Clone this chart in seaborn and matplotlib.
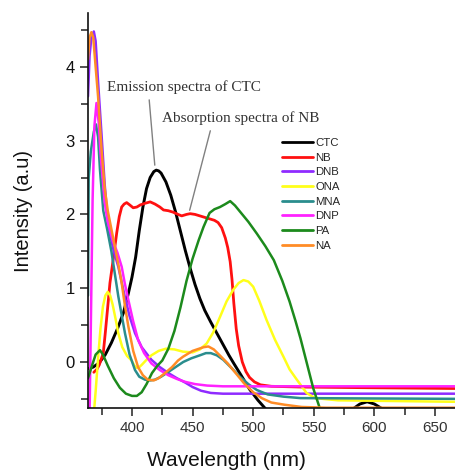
import numpy as np
import pandas as pd
import matplotlib
matplotlib.use("Agg")
import matplotlib.pyplot as plt
import seaborn as sns
from matplotlib.ticker import MultipleLocator

# ---------------- data ----------------
series_names = ["CTC", "NB", "DNB", "ONA", "MNA", "DNP", "PA", "NA"]
series_colors = ["#000000", "#ff1010", "#8f2bff", "#ffff1a", "#2a8d8d", "#ff22ff", "#1c8a1c", "#ff8c26"]

ctc_wl = [363.7, 368, 373, 378, 383, 388, 393, 397, 400, 403, 406, 409, 412, 415, 418, 420, 422, 424, 428, 432,
          436, 440, 444, 448, 452, 456, 460, 465, 470, 475, 480, 484, 490, 497, 504, 511, 520, 540, 560,
          575, 582, 588, 594, 600, 606, 612, 630, 667]
ctc_int = [-0.09, -0.07, -0.01, 0.10, 0.26, 0.45, 0.67, 0.93, 1.15, 1.42, 1.78, 2.10, 2.35, 2.50, 2.58, 2.60, 2.59,
           2.56, 2.44, 2.26, 2.03, 1.77, 1.51, 1.27, 1.05, 0.86, 0.70, 0.54, 0.39, 0.24, 0.09, -0.02, -0.18,
           -0.37, -0.52, -0.65, -0.80, -0.90, -0.85, -0.72, -0.64, -0.57, -0.54, -0.57, -0.63, -0.70, -0.85, -0.90]

nb_wl = [368.5, 371, 373, 376.3, 378, 380, 381.8, 385, 387.4, 389.5, 391.5, 393.5, 395.6, 398, 401, 404, 407,
         410.7, 415, 419, 423, 426, 430, 434, 438, 441, 445, 448, 452, 456, 460, 464, 468, 471, 474, 477, 479,
         481, 482.5, 484, 486, 488, 491, 494, 497, 501, 506, 515, 540, 600, 667]
nb_int = [-0.14, -0.10, -0.04, 0.12, 0.40, 0.75, 1.07, 1.45, 1.75, 1.97, 2.10, 2.14, 2.16, 2.13, 2.09, 2.10, 2.13,
          2.15, 2.17, 2.14, 2.10, 2.06, 2.05, 2.03, 2.00, 1.98, 2.00, 2.01, 2.00, 1.98, 1.96, 1.94, 1.92, 1.89, 1.82,
          1.68, 1.55, 1.36, 1.12, 0.80, 0.45, 0.22, 0.00, -0.13, -0.21, -0.27, -0.31, -0.33, -0.34, -0.35, -0.36]

dnb_wl = [363.7, 365, 366.5, 368.5, 370, 372, 375, 377.5, 380, 382, 385, 388.7, 391.5, 394, 398, 402.5, 408,
          416, 423, 430, 437, 444, 450, 457, 465, 475, 667]
dnb_int = [3.60, 4.15, 4.40, 4.48, 4.35, 3.80, 3.05, 2.40, 1.92, 1.72, 1.50, 1.29, 1.08, 0.89, 0.62, 0.39, 0.20,
           0.03, -0.07, -0.15, -0.22, -0.28, -0.34, -0.39, -0.42, -0.43, -0.43]

ona_wl = [368.5, 370, 372, 374, 376, 378, 380, 382, 384, 386.5, 388.7, 392, 396, 399.7, 402, 404, 406, 408,
          412, 416, 422, 428, 435, 442, 450, 456, 461.6, 467, 472.6, 478, 483.6, 488, 492, 496, 500, 505, 511,
          518, 525, 530, 536, 544, 551, 570, 667]
ona_int = [-0.70, -0.40, 0.05, 0.45, 0.75, 0.90, 0.95, 0.90, 0.78, 0.58, 0.39, 0.20, 0.08, 0.02, -0.05, -0.08,
           -0.07, -0.04, 0.03, 0.09, 0.15, 0.18, 0.17, 0.14, 0.13, 0.17, 0.25, 0.40, 0.61, 0.82, 0.98, 1.07, 1.11,
           1.09, 1.02, 0.83, 0.57, 0.30, 0.07, -0.10, -0.24, -0.42, -0.49, -0.52, -0.54]

mna_wl = [363.7, 364.3, 366, 368.5, 370.3, 372, 373.6, 376.3, 379.5, 383, 388.7, 394.2, 398, 402.5, 406, 410.7,
          415, 419, 424, 428.6, 435, 442.3, 449, 456, 461, 465, 470, 475.3, 482, 489, 496, 503, 512, 525, 539, 667]
mna_int = [0.90, 2.50, 2.85, 3.12, 3.22, 3.05, 2.60, 2.05, 1.80, 1.50, 0.89, 0.39, 0.10, -0.11, -0.20, -0.24,
           -0.25, -0.24, -0.20, -0.15, -0.08, 0.00, 0.05, 0.09, 0.12, 0.12, 0.09, 0.03, -0.08, -0.20, -0.30, -0.38,
           -0.44, -0.47, -0.49, -0.50]

dnp_wl = [365, 366.3, 367.5, 369, 370.7, 372.5, 374, 377.5, 380, 384, 388, 391.5, 394, 397, 401, 405, 410, 416,
          423, 430, 437, 444, 452, 462, 475, 667]
dnp_int = [-0.70, 0.80, 2.20, 3.20, 3.51, 3.25, 2.83, 2.16, 1.90, 1.65, 1.48, 1.29, 1.07, 0.84, 0.55, 0.30, 0.12,
           -0.02, -0.11, -0.18, -0.23, -0.27, -0.30, -0.32, -0.33, -0.33]

pa_wl = [363.7, 367, 370, 373.6, 376, 380, 385, 390, 395, 400, 404, 408, 412, 416.5, 421, 425, 430, 435, 440,
         445, 450, 455, 459, 464, 468, 472.6, 477, 481, 485, 489, 496, 503, 510, 517, 524, 530, 535, 539, 544,
         549.6, 555, 558, 667]
pa_int = [-0.22, -0.05, 0.10, 0.16, 0.10, -0.05, -0.22, -0.35, -0.43, -0.46, -0.46, -0.41, -0.30, -0.15, -0.05,
          0.02, 0.18, 0.42, 0.74, 1.10, 1.40, 1.65, 1.83, 2.02, 2.07, 2.10, 2.14, 2.18, 2.12, 2.04, 1.90, 1.74, 1.57,
          1.38, 1.10, 0.82, 0.55, 0.32, 0.00, -0.36, -0.63, -0.72, -0.75]

na_wl = [363.7, 365, 366.5, 368, 370, 372, 375, 377.5, 380, 383, 386, 389, 391.5, 394, 397, 401, 405, 409, 413,
         418, 422, 428, 433, 438, 442, 450, 459, 463, 467.5, 473, 479, 486, 492.5, 500, 507, 515, 526, 540, 560, 667]
na_int = [4.10, 4.40, 4.47, 4.40, 4.00, 3.60, 2.85, 2.35, 2.05, 1.80, 1.55, 1.30, 1.07, 0.78, 0.48, 0.15, -0.07,
          -0.18, -0.24, -0.25, -0.22, -0.14, -0.07, 0.02, 0.07, 0.15, 0.20, 0.21, 0.17, 0.08, -0.02, -0.16, -0.29,
          -0.41, -0.49, -0.55, -0.58, -0.61, -0.62, -0.62]

x_label = "Wavelength (nm)"
y_label = "Intensity (a.u)"
note_emission = "Emission spectra of CTC"
note_absorption = "Absorption spectra of NB"

# ---------------- build long table ----------------
all_wl = [ctc_wl, nb_wl, dnb_wl, ona_wl, mna_wl, dnp_wl, pa_wl, na_wl]
all_int = [ctc_int, nb_int, dnb_int, ona_int, mna_int, dnp_int, pa_int, na_int]
frames = []
for name, w, v in zip(series_names, all_wl, all_int):
    frames.append(pd.DataFrame({"wl": w, "val": v, "series": name}))
df = pd.concat(frames, ignore_index=True)

# ---------------- figure ----------------
sns.set_style("ticks")
plt.rcParams["font.family"] = ["Liberation Sans", "DejaVu Sans"]

fig = plt.figure(figsize=(4.55, 4.71), dpi=100)
ax = fig.add_axes([88 / 455, 1 - 408 / 471, 367 / 455, 395 / 471])

sns.lineplot(data=df, x="wl", y="val", hue="series", hue_order=series_names,
             palette=dict(zip(series_names, series_colors)), sort=False, estimator=None,
             linewidth=1.8, legend=False, ax=ax)
for ln in ax.lines:
    ln.set_solid_joinstyle("round")
ax.lines[0].set_linewidth(2.1)
ax.lines[1].set_linewidth(2.0)

ax.set_xlim(363.7, 666.5)
ax.set_ylim(-0.624, 4.73)

ax.xaxis.set_major_locator(MultipleLocator(50))
ax.xaxis.set_minor_locator(MultipleLocator(25))
ax.yaxis.set_major_locator(MultipleLocator(1))
ax.yaxis.set_minor_locator(MultipleLocator(0.5))
ax.tick_params(axis="both", which="major", direction="out", length=5.5, width=1.1, color="#222222")
ax.tick_params(axis="both", which="minor", direction="out", length=5.0, width=1.1, color="#222222")
ax.tick_params(axis="x", which="major", labelsize=11, pad=4, labelcolor="#333333")
ax.tick_params(axis="y", which="major", labelsize=12, pad=4, labelcolor="#111111")

for side in ["top", "right"]:
    ax.spines[side].set_visible(False)
for side in ["left", "bottom"]:
    ax.spines[side].set_linewidth(1.2)
    ax.spines[side].set_color("#111111")

ax.set_xlabel(x_label, fontsize=15, color="#111111")
ax.set_ylabel(y_label, fontsize=14.5, color="#111111")
ax.xaxis.set_label_coords(0.376, -0.109)
ax.yaxis.set_label_coords(-0.15, 0.5)

# legend
handles = list(ax.lines[:len(series_names)])
leg = ax.legend(handles, series_names, loc="upper left", bbox_to_anchor=(282 / 455, 1 - 138 / 471),
                bbox_transform=fig.transFigure, frameon=False, fontsize=8.2, handlelength=2.7,
                handletextpad=0.2, labelspacing=0.41, borderpad=0, borderaxespad=0)
for lh in leg.get_lines():
    lh.set_linewidth(2.0)

# annotations
serif = ["Liberation Serif", "DejaVu Serif"]
ax.annotate("", xy=(419, 2.63), xytext=(414, 3.59),
            arrowprops=dict(arrowstyle="-", color="#808080", lw=1.0))
ax.text(379.4, 3.72, note_emission, family=serif, fontsize=11, color="#333333", ha="left", va="center")
ax.annotate("", xy=(447, 2.02), xytext=(465.2, 3.17),
            arrowprops=dict(arrowstyle="-", color="#808080", lw=1.0))
ax.text(424.8, 3.31, note_absorption, family=serif, fontsize=11, color="#333333", ha="left", va="center")

fig.savefig("out.png", dpi=100)
